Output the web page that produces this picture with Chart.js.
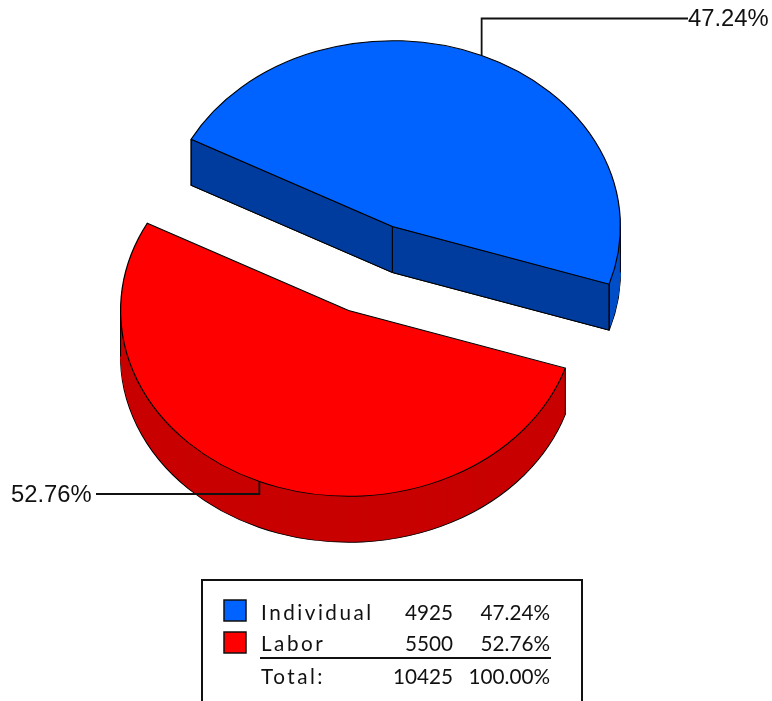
<!DOCTYPE html>
<html>
<head>
<meta charset="utf-8">
<title>Individual / Labor</title>
<script src="https://cdn.jsdelivr.net/npm/chart.js@4/dist/chart.umd.min.js"></script>
<style>
    html, body { margin: 0; padding: 0; background: #fff; overflow: hidden; }
    canvas { display: block; }
</style>
</head>
<body>
<canvas id="pieChart" width="772" height="701"></canvas>
<script>
// ===== DATA =====
const categories = ['Individual', 'Labor'];
const amounts = [4925, 5500];
const percents = ['47.24%', '52.76%'];
const totalLabel = 'Total:';
const totalAmount = '10425';
const totalPercent = '100.00%';

// ===== STYLE =====
const topColors = ['#0062ff', '#ff0000'];
const wallColors = ['#003c9e', '#c80000'];
const rimColors = ['#004fc8', '#c80000'];
const squash = 0.815;    // vertical flattening of the disc
const depth = 46;        // height of the disc, px
const explode = 56;      // how far the slices are pulled apart
const ink = '#000';

// leader line layout: elbow height and end of the line, then label position
const leaders = [
    { elbowY: 18.5, endX: 688, textX: 688, textY: 26 },
    { elbowY: 494, endX: 96, textX: 11, textY: 502 }
];

// ===== 3D SLICES =====
function pieCenterY(chart) {
    return (chart.chartArea.top + chart.chartArea.bottom) / 2;
}

function rimPoint(chart, arc, angle, radius, drop) {
    const mid = (arc.startAngle + arc.endAngle) / 2;
    const cy = pieCenterY(chart);
    return {
        x: arc.x + Math.cos(mid) * explode + Math.cos(angle) * radius,
        y: cy + squash * (Math.sin(mid) * explode + Math.sin(angle) * radius) + drop
    };
}

function drawLayer(chart, arc, drop, overrides) {
    const ctx = chart.ctx;
    const mid = (arc.startAngle + arc.endAngle) / 2;
    const cy = pieCenterY(chart);
    const original = arc.options;
    arc.options = Object.assign({}, original, overrides);
    ctx.save();
    ctx.translate(0, cy + drop);
    ctx.scale(1, squash);
    ctx.translate(Math.cos(mid) * explode, Math.sin(mid) * explode - cy);
    arc.draw(ctx);
    ctx.restore();
    arc.options = original;
}

function drawWall(chart, arc, angle, color) {
    const ctx = chart.ctx;
    const r = arc.outerRadius;
    const pts = [
        rimPoint(chart, arc, angle, r, 0),
        rimPoint(chart, arc, angle, 0, 0),
        rimPoint(chart, arc, angle, 0, depth),
        rimPoint(chart, arc, angle, r, depth)
    ];
    ctx.beginPath();
    pts.forEach((p, i) => i ? ctx.lineTo(p.x, p.y) : ctx.moveTo(p.x, p.y));
    ctx.closePath();
    ctx.fillStyle = color;
    ctx.fill();
    ctx.strokeStyle = ink;
    ctx.lineWidth = 1;
    ctx.stroke();
}

function drawEdge(chart, arc, angle, radius) {
    const ctx = chart.ctx;
    const a = rimPoint(chart, arc, angle, radius, 0);
    const b = rimPoint(chart, arc, angle, radius, depth);
    ctx.beginPath();
    ctx.moveTo(a.x, a.y);
    ctx.lineTo(b.x, b.y);
    ctx.strokeStyle = ink;
    ctx.lineWidth = 1;
    ctx.stroke();
}

function drawSlice(chart, arc, index) {
    const start = arc.startAngle;
    const end = arc.endAngle;
    const r = arc.outerRadius;

    // extrusion: bottom face with outline, then borderless copies up to the top
    drawLayer(chart, arc, depth, { backgroundColor: rimColors[index] });
    for (let d = depth - 1; d > 0; d--) {
        drawLayer(chart, arc, d, { backgroundColor: rimColors[index], borderWidth: 0 });
    }

    // flat walls of the cut, only when they face the viewer
    if (Math.sin(start - Math.PI / 2) > 0) drawWall(chart, arc, start, wallColors[index]);
    if (Math.sin(end + Math.PI / 2) > 0) drawWall(chart, arc, end, wallColors[index]);

    // vertical edges at the corners and where the rim turns away
    drawEdge(chart, arc, start, r);
    drawEdge(chart, arc, end, r);
    for (let k = -2; k <= 4; k++) {
        const a = k * Math.PI;
        if (a > start && a < end) drawEdge(chart, arc, a, r);
    }

    drawLayer(chart, arc, 0, {});
}

function drawLeader(chart, arc, index) {
    const ctx = chart.ctx;
    const layout = leaders[index];
    const mid = (arc.startAngle + arc.endAngle) / 2;
    const p = rimPoint(chart, arc, mid, arc.outerRadius, 0);
    ctx.beginPath();
    ctx.moveTo(p.x, p.y);
    ctx.lineTo(p.x, layout.elbowY);
    ctx.lineTo(layout.endX, layout.elbowY);
    ctx.strokeStyle = '#111';
    ctx.lineWidth = 1.8;
    ctx.stroke();

    ctx.font = '23.8px "Liberation Sans", Arial, sans-serif';
    ctx.fillStyle = '#111';
    ctx.textAlign = 'left';
    ctx.textBaseline = 'alphabetic';
    ctx.fillText(percents[index], layout.textX, layout.textY);
}

const slices3d = {
    id: 'slices3d',
    beforeDatasetDraw(chart, args) {
        const arcs = chart.getDatasetMeta(args.index).data;
        arcs.forEach((arc, i) => drawSlice(chart, arc, i));
        arcs.forEach((arc, i) => drawLeader(chart, arc, i));
        return false;
    }
};

// ===== LEGEND BOX =====
function legendRow(ctx, label, amount, percent, baseline) {
    ctx.textBaseline = 'alphabetic';
    ctx.fillStyle = '#111';
    ctx.textAlign = 'left';
    ctx.letterSpacing = '2.5px';
    ctx.fillText(label, 261, baseline);
    ctx.letterSpacing = '0px';
    ctx.textAlign = 'right';
    ctx.fillText(amount, 453, baseline);
    ctx.fillText(percent, 550, baseline);
}

const legendBox = {
    id: 'legendBox',
    afterDraw(chart) {
        const ctx = chart.ctx;
        const rowY = [620, 651];
        const swatchY = [600, 632];
        ctx.save();
        ctx.strokeStyle = '#111';
        ctx.lineWidth = 2;
        ctx.beginPath();
        ctx.moveTo(202, 701);
        ctx.lineTo(202, 580);
        ctx.lineTo(582, 580);
        ctx.lineTo(582, 701);
        ctx.stroke();

        ctx.font = '20.7px Lato, sans-serif';
        categories.forEach((name, i) => {
            ctx.fillStyle = topColors[i];
            ctx.fillRect(224, swatchY[i], 22, 21);
            ctx.strokeStyle = '#111';
            ctx.lineWidth = 1.5;
            ctx.strokeRect(224, swatchY[i], 22, 21);
            legendRow(ctx, name, String(amounts[i]), percents[i], rowY[i]);
        });

        ctx.strokeStyle = '#111';
        ctx.lineWidth = 2;
        ctx.beginPath();
        ctx.moveTo(260, 658);
        ctx.lineTo(551, 658);
        ctx.stroke();

        legendRow(ctx, totalLabel, totalAmount, totalPercent, 684);
        ctx.restore();
    }
};

// ===== CHART =====
new Chart(document.getElementById('pieChart').getContext('2d'), {
    type: 'pie',
    data: {
        labels: categories,
        datasets: [{
            data: amounts,
            backgroundColor: topColors,
            borderColor: ink,
            borderWidth: 1.2,
            borderJoinStyle: 'miter'
        }]
    },
    options: {
        responsive: false,
        animation: false,
        rotation: 298,
        radius: 228,
        layout: { padding: { left: 0, top: 0, right: 31, bottom: 164 } },
        events: [],
        plugins: {
            legend: { display: false },
            tooltip: { enabled: false }
        }
    },
    plugins: [slices3d, legendBox]
});
</script>
</body>
</html>
